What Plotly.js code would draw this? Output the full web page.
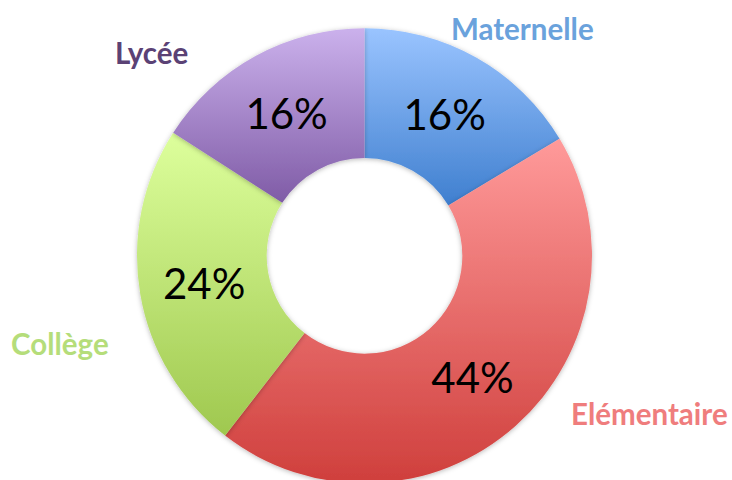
<!DOCTYPE html>
<html>
<head>
<meta charset="utf-8">
<script src="https://cdn.plot.ly/plotly-3.0.1.min.js"></script>
<style>
html,body{margin:0;padding:0;overflow:hidden;background:#fff;}
#chart{width:732px;height:490px;}
</style>
</head>
<body>
<div id="chart"></div>
<script>
// Data (shares; labels show the rounded percent)
const categories = ["Maternelle", "Elémentaire", "Collège", "Lycée"];
const values = [16.4, 44.1, 23.6, 15.9];
const baseColors = ["#6f9fe6", "#e67070", "#c2e880", "#a685c9"];
const gradTop = ["#9ac4ff", "#ff9a9a", "#ddff9c", "#cbb1ec"];
const gradBottom = ["#3f7fcf", "#cf3f3c", "#9fc84f", "#7f5ba6"];
const labelColors = ["#6aa2dc", "#ef7d7d", "#b5dd7a", "#5b4275"];
const labelPos = [[522, 28], [649, 413], [60, 343], [151, 53]];

const W = 732, H = 490;

const trace = {
  type: "pie",
  labels: categories,
  values: values,
  sort: false,
  direction: "clockwise",
  rotation: 0,
  hole: 0.43,
  textposition: "inside",
  insidetextorientation: "horizontal",
  texttemplate: "%{percent:.0%}",
  textfont: {family: "Lato, 'Open Sans', sans-serif", size: 42, color: "#000"},
  marker: {colors: baseColors, line: {width: 0}},
  domain: {x: [137 / W, 592 / W], y: [(H - 483.3) / H, (H - 28.3) / H]},
  hoverinfo: "skip"
};

const annotations = categories.map((c, i) => ({
  text: "<b>" + c + "</b>",
  x: labelPos[i][0] / W,
  y: 1 - labelPos[i][1] / H,
  xref: "paper", yref: "paper",
  xanchor: "center", yanchor: "middle",
  showarrow: false,
  font: {family: "Lato, 'Open Sans', sans-serif", size: 29.5, color: labelColors[i]}
}));

const layout = {
  width: W, height: H,
  margin: {l: 0, r: 0, t: 0, b: 0},
  showlegend: false,
  paper_bgcolor: "#fff",
  annotations: annotations
};

Plotly.newPlot("chart", [trace], layout, {staticPlot: true, displayModeBar: false}).then(function (gd) {
  const svg = gd.querySelector("svg.main-svg");
  const NS = "http://www.w3.org/2000/svg";
  let defs = svg.querySelector("defs");
  if (!defs) { defs = document.createElementNS(NS, "defs"); svg.insertBefore(defs, svg.firstChild); }
  categories.forEach((c, i) => {
    const lg = document.createElementNS(NS, "linearGradient");
    lg.setAttribute("id", "sliceGrad" + i);
    lg.setAttribute("x1", "0"); lg.setAttribute("y1", "0");
    lg.setAttribute("x2", "0"); lg.setAttribute("y2", "1");
    const s1 = document.createElementNS(NS, "stop");
    s1.setAttribute("offset", "0"); s1.setAttribute("stop-color", gradTop[i]);
    const s2 = document.createElementNS(NS, "stop");
    s2.setAttribute("offset", "1"); s2.setAttribute("stop-color", gradBottom[i]);
    lg.appendChild(s1); lg.appendChild(s2);
    defs.appendChild(lg);
  });
  const f = document.createElementNS(NS, "filter");
  f.setAttribute("id", "ringShadow");
  f.setAttribute("x", "-10%"); f.setAttribute("y", "-10%");
  f.setAttribute("width", "120%"); f.setAttribute("height", "120%");
  const ds = document.createElementNS(NS, "feDropShadow");
  ds.setAttribute("dx", "0"); ds.setAttribute("dy", "1");
  ds.setAttribute("stdDeviation", "2.5");
  ds.setAttribute("flood-color", "#000"); ds.setAttribute("flood-opacity", "0.28");
  f.appendChild(ds);
  defs.appendChild(f);
  const slices = gd.querySelectorAll("g.slice path.surface");
  slices.forEach((p, i) => {
    p.style.fill = "url(#sliceGrad" + i + ")";
    p.setAttribute("filter", "url(#ringShadow)");
  });
});
</script>
</body>
</html>
